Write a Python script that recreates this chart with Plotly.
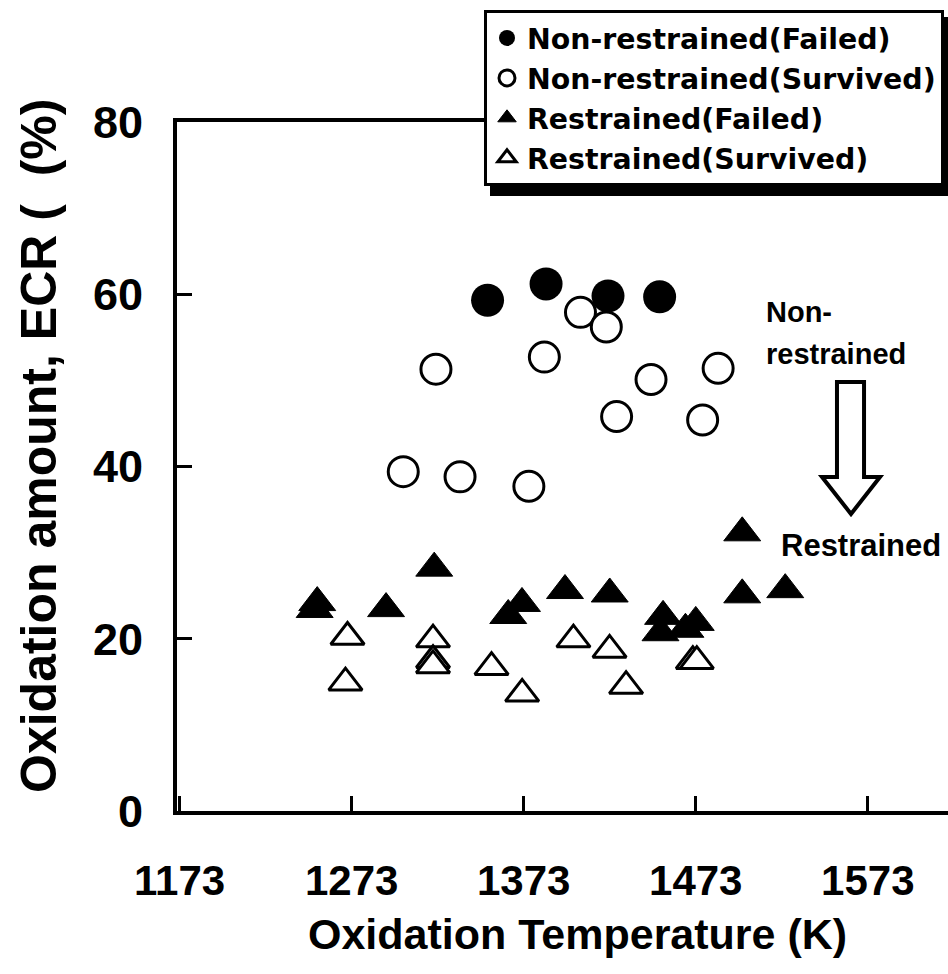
import plotly.graph_objects as go

# Oxidation temperature (K) and oxidation amount ECR (%) per test group
nr_failed_T = [1352, 1386, 1422, 1452]
nr_failed_ecr = [59.3, 61.2, 59.8, 59.7]

nr_survived_T = [1303, 1322, 1336, 1376, 1385, 1406, 1421, 1427, 1447, 1477, 1486]
nr_survived_ecr = [39.4, 51.3, 38.8, 37.7, 52.7, 57.9, 56.2, 45.8, 50.1, 45.4, 51.4]

r_failed_T = [1251.5, 1253, 1293, 1321, 1364, 1372, 1397, 1423, 1452.5, 1454,
              1467, 1473, 1500, 1500, 1525]
r_failed_ecr = [23.4, 24.2, 23.5, 28.2, 22.7, 24.1, 25.6, 25.2, 20.7, 22.6,
                21.1, 21.9, 32.3, 25.1, 25.7]

r_survived_T = [1270.6, 1269.4, 1320.3, 1320.3, 1320.3, 1354.3, 1372.1, 1401.9,
                1422.9, 1432.5, 1471.3, 1473.6]
r_survived_ecr = [20.2, 14.9, 19.9, 17.5, 16.9, 16.7, 13.6, 19.9, 18.7, 14.5,
                  17.4, 17.4]

x_ticks = [1173, 1273, 1373, 1473, 1573]
y_ticks = [0, 20, 40, 60, 80]

W, H = 948, 974
L, R, T, B = 177, 948, 122, 811  # plot-area edges in pixels
FONT = "Liberation Sans"


def px(xp):
    return (xp - L) / (R - L)


def py(yp):
    return (B - yp) / (B - T)


fig = go.Figure()

fig.add_trace(go.Scatter(
    x=nr_failed_T, y=nr_failed_ecr, mode="markers",
    name="Non-restrained(Failed)",
    marker=dict(symbol="circle", size=33, color="black",
                line=dict(width=0))))
fig.add_trace(go.Scatter(
    x=nr_survived_T, y=nr_survived_ecr, mode="markers",
    name="Non-restrained(Survived)",
    marker=dict(symbol="circle", size=30, color="white",
                line=dict(width=3, color="black"))))
fig.add_trace(go.Scatter(
    x=r_failed_T, y=r_failed_ecr, mode="markers",
    name="Restrained(Failed)",
    marker=dict(symbol="triangle-up", size=32, color="black",
                line=dict(width=1, color="black"))))
fig.add_trace(go.Scatter(
    x=r_survived_T, y=r_survived_ecr, mode="markers",
    name="Restrained(Survived)",
    marker=dict(symbol="triangle-up", size=29, color="white",
                line=dict(width=3, color="black"))))

tick_font_x = dict(family=FONT, size=42, color="black", weight="bold")
tick_font_y = dict(family=FONT, size=45, color="black", weight="bold")

fig.update_xaxes(
    range=[1171.5, 1619.6], tickvals=x_ticks, ticktext=[str(v) for v in x_ticks],
    ticks="inside", ticklen=15, tickwidth=3, tickcolor="black",
    showline=True, linewidth=4, linecolor="black", mirror=True,
    showgrid=False, zeroline=False, tickfont=tick_font_x, ticklabelstandoff=30)
fig.update_yaxes(
    range=[0, 80], tickvals=y_ticks, ticktext=[str(v) for v in y_ticks],
    ticks="inside", ticklen=15, tickwidth=3, tickcolor="black",
    showline=True, linewidth=4, linecolor="black",
    showgrid=False, zeroline=False, tickfont=tick_font_y, ticklabelstandoff=21)

# hollow block arrow between the two groups
arrow_pts = [(837, 382), (864, 382), (864, 477), (880, 477), (851, 514),
             (822, 477), (837, 477)]
path = "M " + " L ".join(f"{px(a):.4f},{py(b):.4f}" for a, b in arrow_pts) + " Z"
fig.add_shape(type="path", path=path, xref="paper", yref="paper",
              line=dict(color="black", width=4), fillcolor="white")

# legend drop shadow
fig.add_shape(type="rect", xref="paper", yref="paper",
              x0=px(490), x1=px(948), y0=py(196), y1=py(17),
              fillcolor="black", line=dict(width=0), layer="above")

label_font = dict(family=FONT, color="black", weight="bold")
fig.add_annotation(text="Non-", x=px(764), y=py(312), xref="paper", yref="paper",
                   xanchor="left", yanchor="middle", showarrow=False,
                   font=dict(size=29, **label_font))
fig.add_annotation(text="restrained", x=px(764), y=py(354), xref="paper", yref="paper",
                   xanchor="left", yanchor="middle", showarrow=False,
                   font=dict(size=29, **label_font))
fig.add_annotation(text="Restrained", x=px(779), y=py(545), xref="paper", yref="paper",
                   xanchor="left", yanchor="middle", showarrow=False,
                   font=dict(size=31, **label_font))

# axis titles
fig.add_annotation(text="Oxidation Temperature (K)", x=px(577), y=py(934),
                   xref="paper", yref="paper", xanchor="center", yanchor="middle",
                   showarrow=False, font=dict(size=43, **label_font))
fig.add_annotation(text="Oxidation amount, ECR (  (%)", x=px(39), y=py(446),
                   xref="paper", yref="paper", xanchor="center", yanchor="middle",
                   textangle=-90, showarrow=False, font=dict(size=50, **label_font))

fig.update_layout(
    width=W, height=H,
    margin=dict(l=L, r=W - R, t=T, b=H - B, pad=0),
    paper_bgcolor="white", plot_bgcolor="white",
    showlegend=True,
    legend=dict(
        x=px(484), y=py(10), xanchor="left", yanchor="top",
        bgcolor="white", bordercolor="black", borderwidth=3,
        font=dict(family="DejaVu Sans", size=28.4, color="black", weight="bold"),
        itemwidth=30, tracegroupgap=0),
)

fig.write_html("out.html")
